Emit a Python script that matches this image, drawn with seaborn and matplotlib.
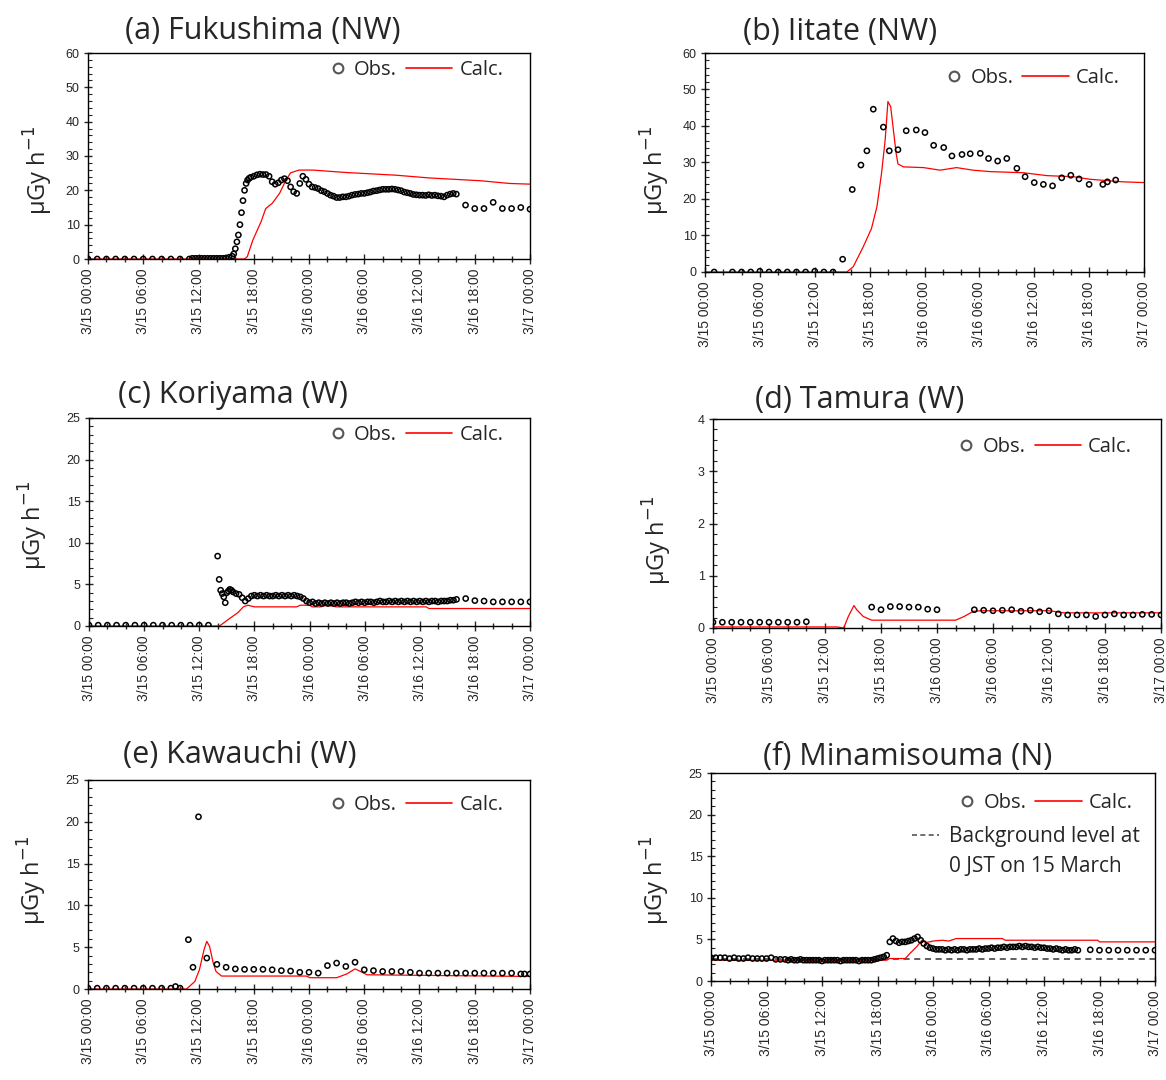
import numpy as np
import matplotlib
matplotlib.use('Agg')
import matplotlib.pyplot as plt
from matplotlib.ticker import MultipleLocator
from matplotlib.lines import Line2D
from matplotlib.legend_handler import HandlerLine2D
import seaborn as sns

sns.set_style('ticks')
plt.rcParams['font.family'] = ['Open Sans', 'DejaVu Sans']
plt.rcParams['mathtext.fontset'] = 'dejavusans'

# time axis: hours after 3/15 00:00 JST
x_ticks = [0, 6, 12, 18, 24, 30, 36, 42, 48]
x_tick_labels = ['3/15 00:00', '3/15 06:00', '3/15 12:00', '3/15 18:00', '3/16 00:00',
                 '3/16 06:00', '3/16 12:00', '3/16 18:00', '3/17 00:00']

titles = ['(a) Fukushima (NW)', '(b) Iitate (NW)', '(c) Koriyama (W)',
          '(d) Tamura (W)', '(e) Kawauchi (W)', '(f) Minamisouma (N)']


def every20(start, vals):
    # 20-minute monitoring data
    return list(start + np.arange(len(vals)) / 3.0)


# (a) Fukushima
a_obs_hourly_t = [0, 1, 2, 3, 4, 5, 6, 7, 8, 9, 10, 11]
a_obs_hourly_v = [0, 0, 0, 0, 0, 0, 0, 0, 0, 0, 0, 0]
a_obs_low_v = [0.2, 0.2, 0.2, 0.2, 0.2, 0.2, 0.2, 0.2, 0.2, 0.2, 0.2, 0.3, 0.5, 0.8]
a_obs_rise_t = [15.83, 16.0, 16.17, 16.33, 16.5, 16.67, 16.83, 17.0, 17.17, 17.33, 17.5, 17.67]
a_obs_rise_v = [1.5, 3.0, 5.0, 7.0, 10.0, 13.5, 17.0, 20.0, 22.0, 23.0, 23.5, 23.8]
a_obs_dense_v = [24.1, 24.5, 24.7, 24.6, 24.6, 24.1, 22.5, 21.8, 22.2, 23.0, 23.4, 22.8,
                 21.0, 19.6, 19.1, 22.0, 24.1, 23.2, 21.8, 21.0, 20.8, 20.5, 19.9, 19.6,
                 19.1, 18.6, 18.3, 17.9, 17.9, 18.1, 18.1, 18.3, 18.6, 18.8, 18.9, 19.1,
                 19.1, 19.3, 19.5, 19.8, 19.9, 20.1, 20.3, 20.3, 20.3, 20.4, 20.3, 20.1,
                 19.9, 19.5, 19.3, 19.1, 18.8, 18.7, 18.6, 18.6, 18.5, 18.7, 18.5, 18.6,
                 18.4, 18.3, 18.1, 18.6, 18.9, 19.1, 18.9]
a_obs_tail_t = [41, 42, 43, 44, 45, 46, 47, 48]
a_obs_tail_v = [15.7, 14.7, 14.7, 16.5, 14.7, 14.7, 15.0, 14.5]
a_calc_t = [0, 17.0, 17.3, 17.9, 18.8, 19.3, 20.0, 20.8, 21.5, 22.0, 22.9, 24.4, 28.0,
            33.5, 37.1, 42.6, 45.8, 48.0]
a_calc_v = [0, 0, 0.7, 5.5, 10.9, 14.7, 16.2, 19.1, 23.0, 25.1, 25.9, 25.9, 25.2,
            24.4, 23.6, 22.8, 22.0, 21.8]

# (b) Iitate
b_obs_t = [1, 3, 4, 5, 6, 7, 8, 9, 10, 11, 12, 13, 14, 15.05, 16.1, 17.05, 17.7, 18.4,
           19.5, 20.15, 21.1, 22, 23.1, 24.05, 25, 26.1, 27, 28.1, 29, 30.1, 31, 32, 33,
           34.1, 35, 36, 37, 38, 39, 40, 40.9, 42, 43.5, 44, 44.9]
b_obs_v = [0, 0, 0, 0, 0.2, 0, 0, 0, 0, 0, 0.2, 0, 0, 3.5, 22.6, 29.3, 33.2, 44.6,
           39.7, 33.2, 33.5, 38.7, 38.9, 38.2, 34.7, 34.1, 31.8, 32.2, 32.4, 32.5, 31.1,
           30.4, 31.1, 28.4, 26.1, 24.5, 24.0, 23.6, 25.8, 26.5, 25.5, 24.0, 24.0, 24.7, 25.2]
b_calc_t = [0, 15.5, 16.2, 17.3, 18.2, 18.8, 19.3, 19.7, 20.0, 20.3, 20.6, 20.9, 21.1,
            21.7, 23.9, 25.7, 27.5, 29.3, 31.2, 34.8, 37.4, 40.3, 42.1, 45.7, 48.0]
b_calc_v = [0, 0, 1.4, 6.9, 11.9, 17.9, 27.0, 36.2, 46.7, 45.3, 38.9, 32.5, 29.6,
            28.8, 28.6, 27.9, 28.6, 27.9, 27.5, 27.2, 26.4, 26.1, 25.4, 24.7, 24.5]

# (c) Koriyama
c_obs_hourly_t = [0, 1, 2, 3, 4, 5, 6, 7, 8, 9, 10, 11, 12, 13]
c_obs_hourly_v = [0.1, 0.1, 0.1, 0.1, 0.1, 0.1, 0.1, 0.1, 0.1, 0.1, 0.1, 0.1, 0.1, 0.1]
c_obs_rise_t = [14.0, 14.17, 14.33, 14.5, 14.67, 14.83, 15.0, 15.17, 15.33, 15.5]
c_obs_rise_v = [8.4, 5.6, 4.3, 3.9, 3.5, 2.8, 4.0, 4.2, 4.4, 4.3]
c_obs_dense_v = [4.1, 3.9, 3.8, 3.4, 3.0, 3.3, 3.6, 3.7, 3.6, 3.7, 3.6, 3.7, 3.6, 3.6,
                 3.7, 3.6, 3.7, 3.6, 3.7, 3.6, 3.7, 3.6, 3.5, 3.3, 3.0, 2.8, 2.9, 2.7,
                 2.8, 2.7, 2.8, 2.7, 2.8, 2.7, 2.8, 2.7, 2.8, 2.8, 2.7, 2.8, 2.9, 2.8,
                 2.9, 2.8, 2.9, 2.9, 2.8, 2.9, 3.0, 2.9, 2.9, 3.0, 2.9, 3.0, 2.9, 3.0,
                 2.9, 3.0, 2.9, 3.0, 2.9, 3.0, 2.9, 3.0, 2.9, 3.0, 3.0, 2.9, 3.0, 3.0,
                 3.0, 3.1, 3.1, 3.2]
c_obs_tail_t = [41, 42, 43, 44, 45, 46, 47, 48]
c_obs_tail_v = [3.3, 3.05, 3.0, 2.9, 2.9, 2.9, 2.9, 2.9]
c_calc_t = [0, 14.2, 15.3, 16.2, 16.8, 17.3, 18.0, 22.6, 23.0, 24.0, 24.3, 25.2, 25.9,
            26.9, 36.7, 37.0, 48.0]
c_calc_v = [0, 0, 0.9, 1.6, 2.3, 2.5, 2.3, 2.3, 2.5, 2.5, 2.3, 2.3, 2.5,
            2.3, 2.3, 2.1, 2.1]

# (d) Tamura
d_obs_t = [0, 1, 2, 3, 4, 5, 6, 7, 8, 9, 10,
           17, 18, 19, 20, 21, 22, 23, 24,
           28, 29, 30, 31, 32, 33, 34, 35, 36, 37, 38, 39, 40, 41, 42, 43, 44, 45, 46, 47, 48]
d_obs_v = [0.11, 0.11, 0.11, 0.11, 0.11, 0.11, 0.11, 0.11, 0.11, 0.11, 0.12,
           0.40, 0.35, 0.41, 0.41, 0.40, 0.40, 0.36, 0.35,
           0.35, 0.34, 0.33, 0.34, 0.35, 0.32, 0.34, 0.31, 0.33, 0.27, 0.25, 0.25,
           0.25, 0.22, 0.25, 0.27, 0.25, 0.25, 0.26, 0.26, 0.25]
d_calc_t = [0, 13.3, 14.0, 14.5, 15.1, 15.4, 16.1, 17.0, 26.0, 26.9, 27.9, 28.8, 36.0, 37.6, 48.0]
d_calc_v = [0.02, 0.02, 0.0, 0.22, 0.43, 0.35, 0.22, 0.15, 0.15, 0.22, 0.32, 0.33, 0.33, 0.29, 0.29]

# (e) Kawauchi
e_obs_t = [0, 1, 2, 3, 4, 5, 6, 7, 8, 9, 9.5, 10, 10.9, 11.4, 12.0, 12.9, 14, 15, 16, 17,
           18, 19, 20, 21, 22, 23, 24, 25, 26, 27, 28, 29, 30, 31, 32, 33, 34, 35, 36,
           37, 38, 39, 40, 41, 42, 43, 44, 45, 46, 47, 47.4, 48]
e_obs_v = [0.1, 0.1, 0.1, 0.1, 0.1, 0.1, 0.1, 0.1, 0.1, 0.1, 0.3, 0.1, 5.9, 2.6, 20.6,
           3.7, 2.95, 2.6, 2.4, 2.35, 2.35, 2.35, 2.3, 2.2, 2.15, 2.0, 2.0, 1.9, 2.8,
           3.1, 2.7, 3.2, 2.3, 2.2, 2.1, 2.1, 2.1, 2.0, 1.9, 1.9, 1.9, 1.9, 1.9, 1.9,
           1.9, 1.9, 1.9, 1.9, 1.9, 1.8, 1.8, 1.8]
e_calc_t = [0, 10.7, 11.6, 12.1, 12.6, 12.9, 13.2, 13.6, 13.9, 14.5, 23.7, 24.1, 27.0,
            28.1, 29.0, 29.5, 30.3, 48.0]
e_calc_v = [0, 0, 0.9, 2.3, 4.7, 5.7, 5.1, 3.1, 2.1, 1.55, 1.55, 1.35, 1.35,
            1.8, 2.4, 2.15, 1.7, 1.5]

# (f) Minamisouma
f_obs_early_t = [0, 0.5, 1, 1.5, 2, 2.5, 3, 3.5, 4, 4.5, 5, 5.5, 6, 6.5, 7, 7.5]
f_obs_early_v = [2.8, 2.8, 2.8, 2.8, 2.7, 2.8, 2.7, 2.7, 2.8, 2.7, 2.7, 2.7, 2.7, 2.8, 2.6, 2.6]
f_obs_dense_v = [2.6, 2.5, 2.6, 2.5, 2.5, 2.6, 2.5, 2.5, 2.5, 2.5, 2.5, 2.5, 2.4, 2.5,
                 2.5, 2.5, 2.5, 2.5, 2.4, 2.5, 2.5, 2.5, 2.5, 2.5, 2.4, 2.5, 2.5, 2.5,
                 2.5, 2.6, 2.7, 2.8, 2.9, 3.1, 4.7, 5.1, 4.8, 4.6, 4.7, 4.7, 4.8, 4.9,
                 5.1, 5.3, 4.9, 4.5, 4.2, 4.0, 3.9, 3.8, 3.8, 3.8, 3.7, 3.8, 3.7, 3.8,
                 3.7, 3.8, 3.8, 3.7, 3.8, 3.8, 3.8, 3.9, 3.8, 3.9, 3.9, 4.0, 3.9, 4.0,
                 4.0, 4.1, 4.0, 4.1, 4.1, 4.1, 4.2, 4.1, 4.2, 4.1, 4.1, 4.0, 4.1, 4.0,
                 4.0, 3.9, 3.9, 3.8, 3.9, 3.8, 3.7, 3.8, 3.7, 3.7, 3.8, 3.7]
f_obs_tail_t = [41, 42, 43, 44, 45, 46, 47, 48]
f_obs_tail_v = [3.75, 3.7, 3.7, 3.7, 3.7, 3.7, 3.7, 3.7]
f_calc_t = [0, 19.0, 19.3, 21.0, 21.5, 22.3, 22.8, 23.2, 24.0, 25.0, 25.7, 26.5, 31.5,
            31.8, 41.8, 42.0, 48.0]
f_calc_v = [2.5, 2.5, 2.7, 2.7, 3.3, 4.2, 4.9, 4.6, 4.8, 4.9, 4.8, 5.1, 5.1,
            4.9, 4.9, 4.7, 4.7]
f_background = 2.6

obs_t = {
    'a': a_obs_hourly_t + every20(11.33, a_obs_low_v) + a_obs_rise_t + every20(18.0, a_obs_dense_v) + a_obs_tail_t,
    'b': b_obs_t,
    'c': c_obs_hourly_t + c_obs_rise_t + every20(15.67, c_obs_dense_v) + c_obs_tail_t,
    'd': d_obs_t,
    'e': e_obs_t,
    'f': f_obs_early_t + every20(8.0, f_obs_dense_v) + f_obs_tail_t,
}
obs_v = {
    'a': a_obs_hourly_v + a_obs_low_v + a_obs_rise_v + a_obs_dense_v + a_obs_tail_v,
    'b': b_obs_v,
    'c': c_obs_hourly_v + c_obs_rise_v + c_obs_dense_v + c_obs_tail_v,
    'd': d_obs_v,
    'e': e_obs_v,
    'f': f_obs_early_v + f_obs_dense_v + f_obs_tail_v,
}
calc_t = {'a': a_calc_t, 'b': b_calc_t, 'c': c_calc_t, 'd': d_calc_t, 'e': e_calc_t, 'f': f_calc_t}
calc_v = {'a': a_calc_v, 'b': b_calc_v, 'c': c_calc_v, 'd': d_calc_v, 'e': e_calc_v, 'f': f_calc_v}

# y axis: max, major step, minor step
y_scale = {'a': (60, 10, 2), 'b': (60, 10, 2), 'c': (25, 5, 1),
           'd': (4, 1, 0.2), 'e': (25, 5, 1), 'f': (25, 5, 1)}

W, H = 1166, 1080
# axes boxes in pixels: left, top, right, bottom
boxes = {'a': (88, 53, 530, 259), 'b': (705, 53, 1144, 272), 'c': (89, 418, 530, 626),
         'd': (713, 419, 1161, 628), 'e': (88, 780, 530, 989), 'f': (711, 773, 1155, 981)}
title_pos = {'a': (263, 31), 'b': (840, 32), 'c': (233, 395), 'd': (860, 400),
             'e': (240, 755), 'f': (908, 757)}
ylabel_pos = {'a': (38, 170), 'b': (655, 170), 'c': (33, 525), 'd': (657, 540),
              'e': (32, 880), 'f': (655, 880)}
legend_anchor = {'a': (0.94, 0.965), 'b': (0.945, 0.93), 'c': (0.94, 0.965),
                 'd': (0.935, 0.915), 'e': (0.94, 0.93), 'f': (0.95, 0.905)}


class MarkerRight(HandlerLine2D):
    # put the single legend marker near the text instead of the handle centre
    def get_xdata(self, legend, xdescent, ydescent, width, height, fontsize):
        xm = -xdescent + width - 0.45 * fontsize
        return [xm, xm], [xm]


fig = plt.figure(figsize=(W / 100, H / 100), dpi=100)

for i, key in enumerate('abcdef'):
    l, t, r, b = boxes[key]
    ax = fig.add_axes([l / W, 1 - b / H, (r - l) / W, (b - t) / H])

    if key == 'f':
        ax.axhline(f_background, color='#333333', lw=1.1, ls=(0, (4, 3)), zorder=1)

    sns.lineplot(x=calc_t[key], y=calc_v[key], ax=ax, color='red', lw=0.9,
                 estimator=None, sort=False, zorder=2)
    sns.scatterplot(x=obs_t[key], y=obs_v[key], ax=ax, marker='o', s=14,
                    facecolor='none', edgecolor='black', linewidth=1.1, zorder=3)

    ymax, ymaj, ymin = y_scale[key]
    ax.set_xlim(0, 48)
    ax.set_ylim(0, ymax)
    ax.set_xticks(x_ticks)
    ax.set_xticklabels(x_tick_labels, rotation=90, fontsize=10, family='Liberation Sans')
    ax.xaxis.set_minor_locator(MultipleLocator(2))
    ax.yaxis.set_major_locator(MultipleLocator(ymaj))
    ax.yaxis.set_minor_locator(MultipleLocator(ymin))
    for lab in ax.get_yticklabels():
        lab.set_family('Liberation Sans')
        lab.set_fontsize(9)
    ax.tick_params(axis='x', which='major', direction='inout', length=7, width=1, pad=3)
    ax.tick_params(axis='x', which='minor', direction='inout', length=4, width=1)
    ax.tick_params(axis='y', which='major', direction='inout', length=6, width=1, pad=3)
    ax.tick_params(axis='y', which='minor', direction='in', length=3, width=0.8)
    for sp in ax.spines.values():
        sp.set_color('black')
        sp.set_linewidth(1)
    ax.set_xlabel('')
    ax.set_ylabel('')

    h_obs = Line2D([], [], marker='o', ls='none', mfc='white', mec='#555555', mew=1.5, ms=7)
    h_calc = Line2D([], [], color='red', lw=1.2)
    leg = ax.legend([h_obs, h_calc], ['Obs.', 'Calc.'], ncol=2, loc='upper right',
                    bbox_to_anchor=legend_anchor[key], frameon=False, fontsize=14.5,
                    handlelength=2.3, handletextpad=0.35, columnspacing=0.45,
                    borderpad=0, borderaxespad=0, handler_map={h_obs: MarkerRight()})
    if key == 'f':
        ax.add_artist(leg)
        h_bg = Line2D([], [], color='#555555', lw=1.2, ls=(0, (3, 2)))
        h_none = Line2D([], [], alpha=0)
        ax.legend([h_bg, h_none], ['Background level at', '0 JST on 15 March'],
                  loc='upper right', bbox_to_anchor=(0.966, 0.745), frameon=False,
                  fontsize=15, handlelength=1.3, handletextpad=0.5, labelspacing=0.45,
                  borderpad=0, borderaxespad=0)

    tx, ty = title_pos[key]
    fig.text(tx / W, 1 - ty / H, titles[i], ha='center', va='center', fontsize=22)
    lx, ly = ylabel_pos[key]
    fig.text(lx / W, 1 - ly / H, 'μGy h$^{-1}$', ha='center', va='center',
             rotation=90, fontsize=17)

fig.savefig('out.png', dpi=100)
